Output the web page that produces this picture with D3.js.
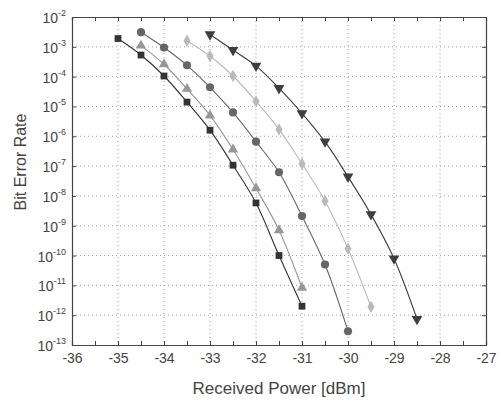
<!DOCTYPE html>
<html>
<head>
<meta charset="utf-8">
<script src="https://cdn.jsdelivr.net/npm/d3@7"></script>
<style>
body { margin: 0; background: #fff; }
text { font-family: "Liberation Sans", Arial, sans-serif; fill: #444; }
</style>
</head>
<body>
<svg id="chart"></svg>
<script>
var width = 501,
    height = 403

var margin = {left: 72, right: 15, top: 17, bottom: 58}

// received power points (dBm)
var powerSquare = [-35, -34.5, -34, -33.5, -33, -32.5, -32, -31.5, -31]
var berSquare = [1.9e-3, 5.3e-4, 1.05e-4, 1.4e-5, 1.6e-6, 1.07e-7, 5.8e-9, 1.0e-10, 2.0e-12]

var powerTriUp = [-34.5, -34, -33.5, -33, -32.5, -32, -31.5, -31]
var berTriUp = [1.1e-3, 2.6e-4, 3.9e-5, 5.0e-6, 3.6e-7, 1.8e-8, 7.1e-10, 8.3e-12]

var powerCircle = [-34.5, -34, -33.5, -33, -32.5, -32, -31.5, -31, -30.5, -30]
var berCircle = [3.1e-3, 9.5e-4, 2.4e-4, 4.4e-5, 6.3e-6, 6.6e-7, 6.2e-8, 2.1e-9, 5.0e-11, 2.9e-13]

var powerDiamond = [-33.5, -33, -32.5, -32, -31.5, -31, -30.5, -30, -29.5]
var berDiamond = [1.6e-3, 4.9e-4, 1.05e-4, 1.5e-5, 1.7e-6, 1.2e-7, 6.8e-9, 1.7e-10, 1.9e-12]

var powerTriDown = [-33, -32.5, -32, -31.5, -31, -30.5, -30, -29.5, -29, -28.5]
var berTriDown = [2.6e-3, 7.8e-4, 2.3e-4, 4.1e-5, 5.9e-6, 6.6e-7, 4.4e-8, 2.4e-9, 7.9e-11, 7.4e-13]

var xTicks = [-36, -35, -34, -33, -32, -31, -30, -29, -28, -27]
var yExps = [-2, -3, -4, -5, -6, -7, -8, -9, -10, -11, -12, -13]

var series = [
    {name: "square", x: powerSquare, y: berSquare, color: "#333333", symbol: d3.symbolSquare, size: 46},
    {name: "triUp", x: powerTriUp, y: berTriUp, color: "#979797", symbol: d3.symbolTriangle, size: 46},
    {name: "circle", x: powerCircle, y: berCircle, color: "#666666", symbol: d3.symbolCircle, size: 52},
    {name: "diamond", x: powerDiamond, y: berDiamond, color: "#bababa", symbol: d3.symbolDiamond, size: 44},
    {name: "triDown", x: powerTriDown, y: berTriDown, color: "#3e3e3e", symbol: d3.symbolTriangle, size: 50, flip: true}
]

var svg = d3.select("svg#chart")
    .attr("width", width)
    .attr("height", height)

var x = d3.scaleLinear()
    .domain([-36, -27])
    .range([margin.left, width - margin.right])

var y = d3.scaleLog()
    .domain([1e-13, 1e-2])
    .range([height - margin.bottom, margin.top])

var x0 = x.range()[0], x1 = x.range()[1],
    y0 = y.range()[0], y1 = y.range()[1]

// grid
var grid = svg.append("g").attr("class", "grid")
grid.selectAll("line.gx")
    .data(xTicks.slice(1, -1))
    .enter().append("line")
    .attr("x1", function(d) { return x(d) })
    .attr("x2", function(d) { return x(d) })
    .attr("y1", y1)
    .attr("y2", y0)
    .attr("stroke", "#a0a0a0")
    .attr("stroke-width", 1)
    .attr("stroke-dasharray", "1,3")
grid.selectAll("line.gy")
    .data(yExps.slice(1, -1))
    .enter().append("line")
    .attr("x1", x0)
    .attr("x2", x1)
    .attr("y1", function(d) { return y(Math.pow(10, d)) })
    .attr("y2", function(d) { return y(Math.pow(10, d)) })
    .attr("stroke", "#a0a0a0")
    .attr("stroke-width", 1)
    .attr("stroke-dasharray", "1,3")

// axes (ticks inward, box all round)
var xAxis = d3.axisBottom(x)
    .tickValues(d3.range(-36, -26.9, 0.5))
    .tickSize(-4)
    .tickFormat(function(d) { return Number.isInteger(d) ? d : "" })
svg.append("g")
    .attr("transform", "translate(0," + y0 + ")")
    .call(xAxis)
    .call(function(g) {
        g.select(".domain").attr("stroke", "#444").attr("stroke-width", 1.2)
        g.selectAll(".tick line").attr("stroke", "#444")
        g.selectAll(".tick text").attr("dy", "1.1em").attr("font-size", 14).attr("fill", "#444")
    })

svg.append("g")
    .attr("transform", "translate(0," + y1 + ")")
    .call(d3.axisTop(x).tickValues(d3.range(-36, -26.9, 0.5)).tickSize(-4).tickFormat(""))
    .call(function(g) {
        g.select(".domain").attr("stroke", "#444").attr("stroke-width", 1.2)
        g.selectAll(".tick line").attr("stroke", "#444")
    })

var yVals = yExps.map(function(e) { return Math.pow(10, e) })
svg.append("g")
    .attr("transform", "translate(" + x0 + ",0)")
    .call(d3.axisLeft(y).tickValues(yVals).tickSize(-4).tickFormat(""))
    .call(function(g) {
        g.select(".domain").attr("stroke", "#444").attr("stroke-width", 1.2)
        g.selectAll(".tick line").attr("stroke", "#444")
    })
svg.append("g")
    .attr("transform", "translate(" + x1 + ",0)")
    .call(d3.axisRight(y).tickValues(yVals).tickSize(-4).tickFormat(""))
    .call(function(g) {
        g.select(".domain").attr("stroke", "#444").attr("stroke-width", 1.2)
        g.selectAll(".tick line").attr("stroke", "#444")
    })

// y tick labels 10^n
var ylab = svg.append("g").selectAll("text")
    .data(yExps)
    .enter().append("text")
    .attr("x", x0 - 6)
    .attr("y", function(d) { return y(Math.pow(10, d)) + 6 })
    .attr("text-anchor", "end")
    .attr("font-size", 14)
    .attr("fill", "#555")
ylab.append("tspan").text("10")
ylab.append("tspan")
    .attr("dy", -7)
    .attr("font-size", 9)
    .text(function(d) { return d })

// axis titles
svg.append("text")
    .attr("x", 279)
    .attr("y", 394)
    .attr("text-anchor", "middle")
    .attr("font-size", 17)
    .text("Received Power [dBm]")

svg.append("text")
    .attr("transform", "translate(26,162) rotate(-90)")
    .attr("text-anchor", "middle")
    .attr("font-size", 16)
    .text("Bit Error Rate")

// curves
var line = d3.line()
    .curve(d3.curveCatmullRom)
    .x(function(d) { return x(d[0]) })
    .y(function(d) { return y(d[1]) })

series.forEach(function(s) {
    var pts = s.x.map(function(v, i) { return [v, s.y[i]] })
    svg.append("path")
        .datum(pts)
        .attr("fill", "none")
        .attr("stroke", s.color)
        .attr("stroke-width", 1.1)
        .attr("d", line)

    svg.append("g").selectAll("path")
        .data(pts)
        .enter().append("path")
        .attr("transform", function(d) {
            return "translate(" + x(d[0]) + "," + y(d[1]) + ")" + (s.flip ? " rotate(180)" : "")
        })
        .attr("d", d3.symbol().type(s.symbol).size(s.size))
        .attr("fill", s.color)
})
</script>
</body>
</html>
